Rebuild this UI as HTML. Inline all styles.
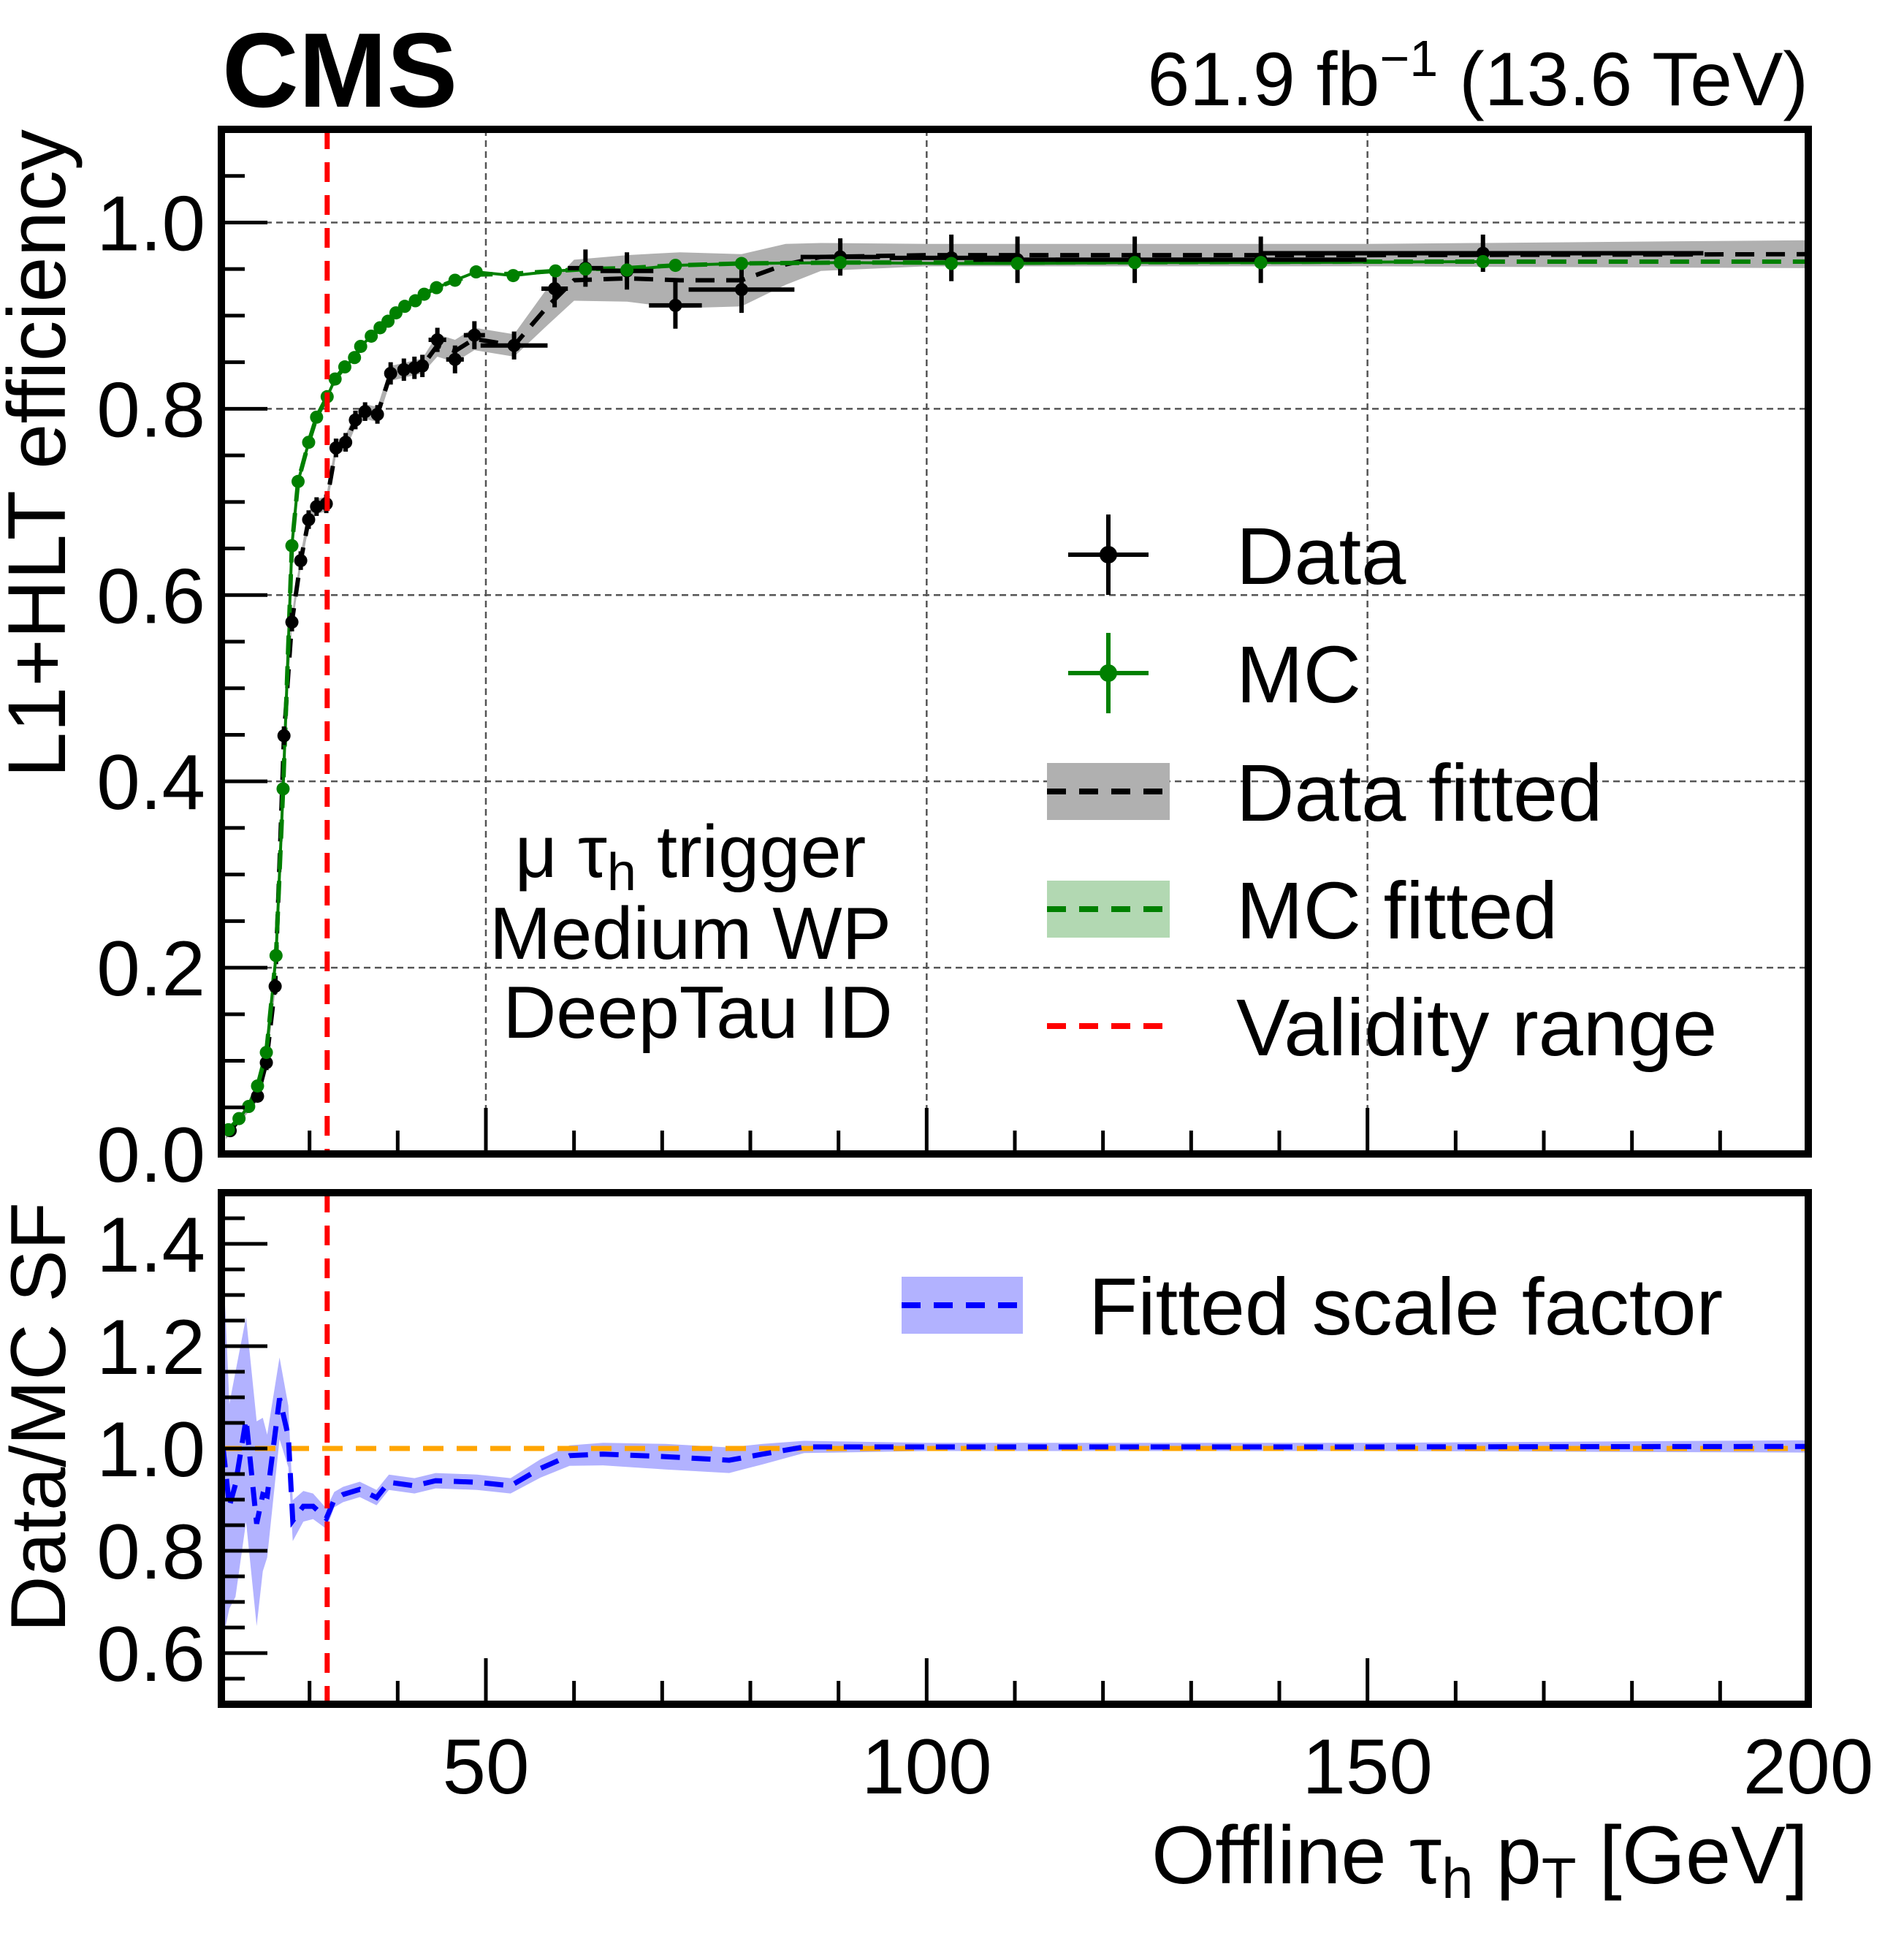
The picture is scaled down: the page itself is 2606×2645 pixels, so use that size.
<!DOCTYPE html>
<html><head><meta charset="utf-8">
<style>
html,body{margin:0;padding:0;background:#fff;}
svg{display:block;font-family:"Liberation Sans",Arial,sans-serif;}
</style></head>
<body>
<svg id="chart" width="2606" height="2645" viewBox="0 0 2606 2645" xmlns="http://www.w3.org/2000/svg">
<g id="topPanel"></g>
<g id="botPanel"></g>
<text x="304" y="146" font-size="145" font-weight="bold">CMS</text>
<text x="2475" y="144" font-size="104" text-anchor="end">61.9 fb<tspan dy="-40" font-size="70">−1</tspan><tspan dy="40"> (13.6 TeV)</tspan></text>
<text transform="translate(89,177) rotate(-90)" font-size="112" text-anchor="end">L1+HLT efficiency</text>
<text transform="translate(89,1645) rotate(-90)" font-size="107" text-anchor="end">Data/MC SF</text>
<text x="2475" y="2577" font-size="112" text-anchor="end">Offline τ<tspan dy="20" font-size="78">h</tspan><tspan dy="-20"> p</tspan><tspan dy="20" font-size="78">T</tspan><tspan dy="-20"> [GeV]</tspan></text>
<g font-size="101" text-anchor="middle">
<text x="945" y="1200">μ τ<tspan dy="18" font-size="72">h</tspan><tspan dy="-18"> trigger</tspan></text>
<text x="945" y="1312">Medium WP</text>
<text x="955" y="1420">DeepTau ID</text>
</g>
</svg>
<script>
// ---- data ----
const dataX   = [21.0,24.1,25.1,26.1,27.1,28.0,29.0,29.9,30.8,31.9,33.0,34.1,35.2,36.3,37.7,39.2,40.7,41.9,42.8,44.5,46.5,48.7,53.2,57.8,61.3,66.0,71.5,79.0,90.2,102.8,110.3,123.6,137.9,163.1];
const dataY   = [0.025,0.062,0.098,0.18,0.449,0.571,0.637,0.681,0.695,0.698,0.758,0.764,0.788,0.797,0.794,0.838,0.842,0.844,0.846,0.874,0.853,0.879,0.868,0.929,0.951,0.948,0.911,0.928,0.963,0.962,0.960,0.960,0.960,0.967];
const dataXErr= [0.5,0.5,0.5,0.5,0.5,0.5,0.5,0.5,0.5,0.5,0.5,0.5,0.5,0.5,0.7,0.7,0.7,0.6,0.6,1.0,1.0,1.2,3.8,1.5,2.0,3.0,3.0,6.0,4.5,7.0,5.0,9.0,12.0,25.0];
const dataYErr= [0.005,0.006,0.008,0.008,0.01,0.01,0.01,0.01,0.01,0.01,0.01,0.01,0.01,0.01,0.01,0.012,0.012,0.012,0.012,0.013,0.015,0.015,0.015,0.02,0.02,0.02,0.025,0.025,0.02,0.025,0.025,0.025,0.025,0.02];
const mcX = [20.8,22.0,23.1,24.1,25.1,26.2,27.0,28.0,28.7,29.9,30.8,32.0,32.9,34.0,35.1,35.8,37.0,38.0,38.9,39.8,40.8,42.0,43.0,44.4,46.5,48.9,53.1,57.9,61.3,66.0,71.5,79.0,90.2,102.8,110.3,123.6,137.9,163.1];
const mcY = [0.026,0.038,0.051,0.073,0.109,0.213,0.392,0.653,0.722,0.764,0.791,0.813,0.832,0.845,0.855,0.867,0.878,0.887,0.894,0.903,0.910,0.916,0.923,0.930,0.938,0.947,0.943,0.948,0.950,0.949,0.954,0.956,0.957,0.956,0.956,0.957,0.957,0.958];
const mcFitX = [20.5,20.8,22.0,23.1,24.1,25.1,26.2,27.0,28.0,28.7,29.9,30.8,32.0,32.9,34.0,35.1,35.8,37.0,38.0,38.9,39.8,40.8,42.0,43.0,44.4,46.5,48.9,53.1,57.9,61.3,66.0,71.5,79.0,90.2,110,150,200];
const mcFitY = [0.022,0.026,0.038,0.051,0.073,0.109,0.213,0.392,0.653,0.722,0.764,0.791,0.813,0.832,0.845,0.855,0.867,0.878,0.887,0.894,0.903,0.910,0.916,0.923,0.930,0.938,0.944,0.945,0.948,0.950,0.951,0.954,0.956,0.957,0.957,0.958,0.958];
const dataFitX = [20.5,21,24.1,25.1,26.1,27.1,28.0,29.0,29.9,30.8,31.9,33.0,34.1,35.2,36.3,37.7,39.2,42.8,44.5,46.5,48.7,53.2,57.0,60.0,66.0,72.0,79.0,84.0,88.0,100,150,200];
const dataFitY = [0.02,0.025,0.062,0.098,0.18,0.449,0.571,0.637,0.681,0.695,0.698,0.758,0.764,0.788,0.797,0.794,0.838,0.846,0.868,0.862,0.875,0.868,0.91,0.938,0.94,0.938,0.938,0.955,0.963,0.965,0.965,0.966];
const dataFitErr=[0.004,0.004,0.005,0.006,0.006,0.008,0.008,0.008,0.008,0.008,0.008,0.008,0.008,0.008,0.008,0.008,0.008,0.008,0.012,0.012,0.012,0.012,0.02,0.022,0.025,0.03,0.028,0.022,0.015,0.012,0.012,0.015];
const sfX = [20.2,20.5,20.9,21.6,22.8,24.0,24.7,25.2,26.6,27.6,28.1,29.3,30.4,31.9,32.8,33.8,35.7,37.6,39.0,41.9,44.3,49.0,52.8,56.2,59.5,63.3,70.4,77.6,81.4,86.1,100,150,200];
const sfY = [1.0,0.954,0.887,0.93,1.057,0.853,0.91,0.907,1.098,1.023,0.859,0.887,0.887,0.863,0.90,0.91,0.92,0.904,0.934,0.927,0.937,0.934,0.927,0.961,0.986,0.989,0.984,0.977,0.989,1.003,1.003,1.003,1.004];
const sfErr = [0.35,0.3,0.2,0.22,0.2,0.2,0.15,0.12,0.08,0.06,0.04,0.03,0.025,0.02,0.015,0.015,0.015,0.015,0.015,0.015,0.015,0.015,0.015,0.018,0.02,0.022,0.025,0.025,0.02,0.012,0.008,0.008,0.012];
const xTicksMajor = [50,100,150,200];
const xTickLabels = ["50","100","150","200"];
const yTopTicks = [0.0,0.2,0.4,0.6,0.8,1.0];
const yTopLabels = ["0.0","0.2","0.4","0.6","0.8","1.0"];
const yBotTicks = [0.6,0.8,1.0,1.2,1.4];
const yBotLabels = ["0.6","0.8","1.0","1.2","1.4"];
const validityX = 32;

// ---- geometry ----
const L=303,R=2475, TT=177, TB=1579, BT=1632, BB=2332;
const X = v => L + (v-20)*(R-L)/180;
const YT = v => TB - v*(TB-TT)/1.1;
const YB = v => BB - (v-0.5)*(BB-BT)/1.0;
const NS="http://www.w3.org/2000/svg";
function mk(tag, attrs, parent){const e=document.createElementNS(NS,tag);for(const k in attrs)e.setAttribute(k,attrs[k]);parent.appendChild(e);return e;}
const topG=document.getElementById('topPanel'), botG=document.getElementById('botPanel');
function poly(xs,ys,fy){return xs.map((x,i)=>X(x).toFixed(1)+','+fy(ys[i]).toFixed(1)).join(' ');}
function band(xs,ys,es,fy){const a=xs.map((x,i)=>X(x).toFixed(1)+','+fy(ys[i]+es[i]).toFixed(1));const b=xs.map((x,i)=>X(x).toFixed(1)+','+fy(ys[i]-es[i]).toFixed(1)).reverse();return a.concat(b).join(' ');}

const defs=mk('defs',{},document.getElementById('chart'));
const c1=mk('clipPath',{id:'ct'},defs); mk('rect',{x:L,y:TT,width:R-L,height:TB-TT},c1);
const c2=mk('clipPath',{id:'cb'},defs); mk('rect',{x:L,y:BT,width:R-L,height:BB-BT},c2);

// ---- top panel ----
const gridT=mk('g',{},topG);


yTopTicks.forEach(v=>{if(v>0) mk('line',{x1:L,x2:R,y1:YT(v),y2:YT(v),stroke:'#555','stroke-width':2.5,'stroke-dasharray':'9,6'},gridT);});
xTicksMajor.forEach(v=>{if(v<200) mk('line',{x1:X(v),x2:X(v),y1:TT,y2:TB,stroke:'#555','stroke-width':2.5,'stroke-dasharray':'9,6'},gridT);});

const plotT=mk('g',{'clip-path':'url(#ct)'},topG);
const db=mk('polygon',{points:band(dataFitX,dataFitY,dataFitErr,YT),fill:'#b0b0b0'},plotT);


const dl=mk('polyline',{points:poly(dataFitX,dataFitY,YT),fill:'none',stroke:'#000','stroke-width':6,'stroke-dasharray':'26,16'},plotT);


const ml=mk('polyline',{points:poly(mcFitX,mcFitY,YT),fill:'none',stroke:'#008000','stroke-width':6,'stroke-dasharray':'26,16'},plotT);


const mcl=mk('polyline',{points:poly(mcX,mcY,YT),fill:'none',stroke:'#008000','stroke-width':4},plotT);


dataX.forEach((x,i)=>{
  const g=mk('g',{stroke:'#000','stroke-width':6},plotT);
  
  
  mk('line',{x1:X(x-dataXErr[i]),x2:X(x+dataXErr[i]),y1:YT(dataY[i]),y2:YT(dataY[i])},g);
  mk('line',{x1:X(x),x2:X(x),y1:YT(dataY[i]-dataYErr[i]),y2:YT(dataY[i]+dataYErr[i])},g);
  mk('circle',{cx:X(x),cy:YT(dataY[i]),r:9,fill:'#000',stroke:'none'},g);
});
mcX.forEach((x,i)=>{
  const c=mk('circle',{cx:X(x),cy:YT(mcY[i]),r:9,fill:'#008000'},plotT);
  
  
});
const vt=mk('line',{x1:X(validityX),x2:X(validityX),y1:TT,y2:TB,stroke:'#ff0000','stroke-width':7,'stroke-dasharray':'27,18'},topG);



// ---- bottom panel ----
const plotB=mk('g',{'clip-path':'url(#cb)'},botG);
const sb=mk('polygon',{points:band(sfX,sfY,sfErr,YB),fill:'#b2b2ff'},plotB);


const ol=mk('line',{x1:L,x2:R,y1:YB(1),y2:YB(1),stroke:'#ffa500','stroke-width':7,'stroke-dasharray':'28,18'},plotB);


const sl=mk('polyline',{points:poly(sfX,sfY,YB),fill:'none',stroke:'#0000ff','stroke-width':7,'stroke-dasharray':'26,16'},plotB);


const vb=mk('line',{x1:X(validityX),x2:X(validityX),y1:BT,y2:BB,stroke:'#ff0000','stroke-width':7,'stroke-dasharray':'27,18'},botG);



// ---- axes, ticks ----
function frame(parent,y0,y1,yTicks,yLabels,fy,minStart,minEnd,name){
  const f=mk('rect',{x:L,y:y0,width:R-L,height:y1-y0,fill:'none',stroke:'#000','stroke-width':10},parent);
  
  
  const tg=mk('g',{stroke:'#000','stroke-width':5},parent);
  for(let v=minStart; v<=minEnd+1e-9; v+=0.05){
    const isMaj=yTicks.some(t=>Math.abs(t-v)<1e-6);
    mk('line',{x1:L,x2:L+(isMaj?63:32),y1:fy(v),y2:fy(v)},tg);
  }
  for(let v=30; v<200; v+=10){
    const isMaj=(v%50===0);
    mk('line',{x1:X(v),x2:X(v),y1:y1,y2:y1-(isMaj?63:32)},tg);
  }
  yTicks.forEach((v,i)=>{
    const t=mk('text',{x:281,y:fy(v)+38,'font-size':107,'text-anchor':'end'},parent);
    t.textContent=yLabels[i];
    
    
  });
}
frame(topG,TT,TB,yTopTicks,yTopLabels,YT,0.05,1.05,'top');
frame(botG,BT,BB,yBotTicks,yBotLabels,YB,0.55,1.45,'bottom');
xTicksMajor.forEach((v,i)=>{
  const t=mk('text',{x:X(v),y:2454,'font-size':107,'text-anchor':'middle'},botG);
  t.textContent=xTickLabels[i];
  
  
});

// ---- legends ----
const lg=mk('g',{},topG);


const lx0=1433,lx1=1601,lxc=1517,tx=1692;
const rows=[759,921,1083,1244,1404];
const labels=["Data","MC","Data fitted","MC fitted","Validity range"];
let g=mk('g',{stroke:'#000','stroke-width':6},lg);
mk('line',{x1:1462,x2:1572,y1:rows[0],y2:rows[0]},g);mk('line',{x1:lxc,x2:lxc,y1:rows[0]-55,y2:rows[0]+55},g);mk('circle',{cx:lxc,cy:rows[0],r:9,fill:'#000'},g);
g=mk('g',{stroke:'#008000','stroke-width':6},lg);
mk('line',{x1:1462,x2:1572,y1:rows[1],y2:rows[1]},g);mk('line',{x1:lxc,x2:lxc,y1:rows[1]-55,y2:rows[1]+55},g);mk('circle',{cx:lxc,cy:rows[1],r:9,fill:'#008000'},g);
mk('rect',{x:lx0,y:rows[2]-39,width:lx1-lx0,height:78,fill:'#b0b0b0'},lg);
mk('line',{x1:lx0,x2:lx1,y1:rows[2],y2:rows[2],stroke:'#000','stroke-width':8,'stroke-dasharray':'26,18'},lg);
mk('rect',{x:lx0,y:rows[3]-39,width:lx1-lx0,height:78,fill:'#b2d8b2'},lg);
mk('line',{x1:lx0,x2:lx1,y1:rows[3],y2:rows[3],stroke:'#008000','stroke-width':8,'stroke-dasharray':'26,18'},lg);
mk('line',{x1:lx0,x2:lx1,y1:rows[4],y2:rows[4],stroke:'#ff0000','stroke-width':8,'stroke-dasharray':'26,18'},lg);
labels.forEach((s,i)=>{const t=mk('text',{x:tx,y:rows[i]+40,'font-size':110},lg);t.textContent=s;
  
  });
const lb=mk('g',{},botG);


mk('rect',{x:1234,y:1747,width:166,height:78,fill:'#b2b2ff'},lb);
mk('line',{x1:1234,x2:1400,y1:1786,y2:1786,stroke:'#0000ff','stroke-width':8,'stroke-dasharray':'26,18'},lb);
const lt=mk('text',{x:1490,y:1826,'font-size':110},lb);lt.textContent="Fitted scale factor";
</script>
</body></html>
